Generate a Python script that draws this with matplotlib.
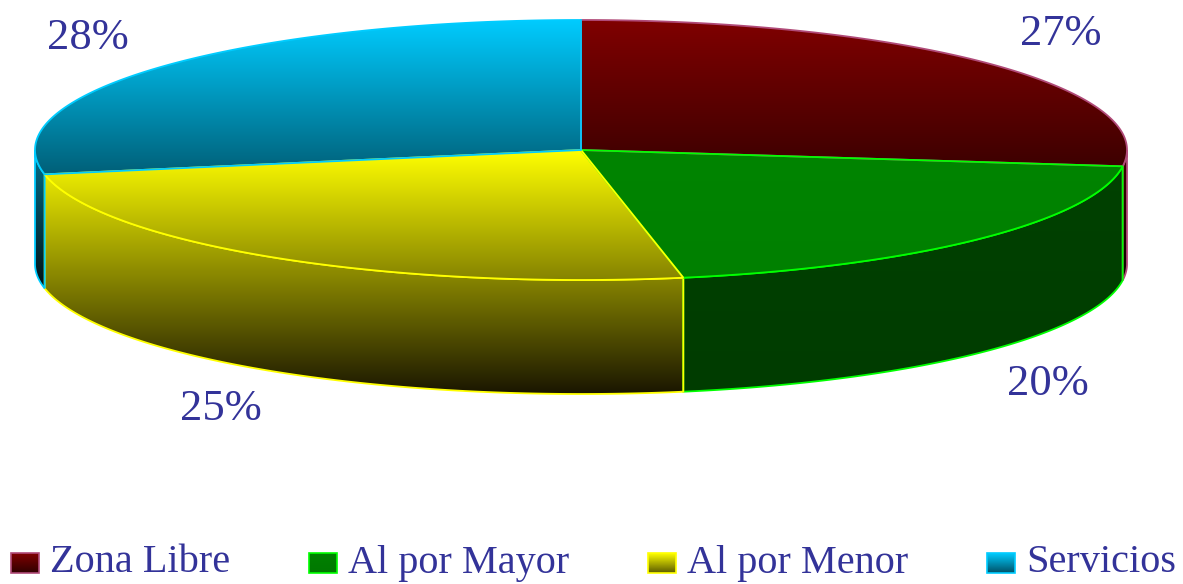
import numpy as np
import matplotlib.pyplot as plt
from matplotlib.patches import Polygon
from matplotlib.colors import LinearSegmentedColormap

categories = ['Zona Libre', 'Al por Mayor', 'Al por Menor', 'Servicios']
shares = [27, 20, 25, 28]
pct_labels = ['27%', '20%', '25%', '28%']

# styles: gradient of top face, gradient of side face, edge colour
top_grad = [('#800000', '#0a0000'), ('#008400', '#007c00'),
            ('#ffff00', '#1a1600'), ('#00ccff', '#001015')]
side_grad = [('#800000', '#0a0000'), ('#004200', '#003c00'),
             ('#ffff00', '#1a1600'), ('#00ccff', '#001015')]
legend_grad = [('#800000', '#300000'), ('#008000', '#007800'),
               ('#ffff00', '#5a5a00'), ('#00ccff', '#005066')]
edge_cols = ['#b04a78', '#00ff00', '#ffff00', '#00ccff']
text_col = '#333399'

W, H = 1183, 584
cx, cy, rx, ry, depth = 581, 150, 546, 130, 114

fig = plt.figure(figsize=(W / 100, H / 100), dpi=100)
ax = fig.add_axes([0, 0, 1, 1])
ax.set_xlim(0, W)
ax.set_ylim(H, 0)
ax.axis('off')


def pt(a, dy=0):
    r = np.radians(a)
    return cx + rx * np.cos(r), cy - ry * np.sin(r) + dy


def arc(a0, a1, dy=0, n=200):
    aa = np.linspace(a0, a1, n)
    return [pt(a, dy) for a in aa]


def grad_fill(pts, c0, c1, y0, y1, z):
    poly = Polygon(pts, closed=True, facecolor='none', edgecolor='none')
    ax.add_patch(poly)
    cmap = LinearSegmentedColormap.from_list('g', [c0, c1])
    g = np.linspace(0, 1, 256)[:, None]
    xs = np.array(pts)[:, 0]
    im = ax.imshow(g, cmap=cmap, aspect='auto', origin='upper',
                   extent=(xs.min() - 2, xs.max() + 2, y1, y0), zorder=z,
                   interpolation='bilinear')
    im.set_clip_path(poly)


bounds = 90 - np.concatenate([[0], np.cumsum(shares)]) * 3.6

# vertical extent of every slice (top face + visible side)
extents = []
for i in range(len(shares)):
    s, e = bounds[i], bounds[i + 1]
    ys = [p[1] for p in arc(s, e)] + [cy]
    fs, fe = min(s, 0), max(e, -180)
    if fs > fe:
        ys += [p[1] for p in arc(fs, fe, depth)]
    extents.append((min(ys), max(ys)))

# side faces first
for i in range(len(shares)):
    s, e = bounds[i], bounds[i + 1]
    fs, fe = min(s, 0), max(e, -180)
    if fs <= fe:
        continue
    pts = arc(fs, fe) + arc(fe, fs, depth)
    grad_fill(pts, side_grad[i][0], side_grad[i][1], *extents[i], z=1)
    ax.add_patch(Polygon(pts, closed=True, facecolor='none',
                         edgecolor=edge_cols[i], lw=1.3, zorder=2))

# top faces
for i in range(len(shares)):
    s, e = bounds[i], bounds[i + 1]
    pts = [(cx, cy)] + arc(s, e)
    grad_fill(pts, top_grad[i][0], top_grad[i][1], *extents[i], z=3)
    ax.add_patch(Polygon(pts, closed=True, facecolor='none',
                         edgecolor=edge_cols[i], lw=1.3, zorder=4))

# percentage labels
for i in range(len(shares)):
    m = np.radians((bounds[i] + bounds[i + 1]) / 2)
    lx = cx + 640 * np.cos(m)
    ly = cy - 175 * np.sin(m) + (depth if np.sin(m) < 0 else 0)
    ax.text(lx, ly, pct_labels[i], ha='center', va='center', fontsize=32,
            color=text_col, family='Liberation Serif', zorder=6)

# legend laid out across the bottom
ly = 563
sq_w, sq_h, pad = 28, 20, 11
texts = [ax.text(0, ly, c, ha='left', va='center', fontsize=29,
                 color=text_col, family='Liberation Serif') for c in categories]
fig.canvas.draw()
r = fig.canvas.get_renderer()
widths = [t.get_window_extent(r).width for t in texts]
x_left, x_right = 11, 1176
gap = (x_right - x_left - sum(w + sq_w + pad for w in widths)) / (len(widths) - 1)
x = x_left
for i, t in enumerate(texts):
    sq = [(x, ly - sq_h / 2), (x + sq_w, ly - sq_h / 2),
          (x + sq_w, ly + sq_h / 2), (x, ly + sq_h / 2)]
    grad_fill(sq, legend_grad[i][0], legend_grad[i][1],
              ly - sq_h / 2, ly + sq_h / 2, z=5)
    ax.add_patch(Polygon(sq, closed=True, facecolor='none',
                         edgecolor=edge_cols[i], lw=1.2, zorder=6))
    t.set_x(x + sq_w + pad)
    x += sq_w + pad + widths[i] + gap

ax.set_xlim(0, W)
ax.set_ylim(H, 0)
fig.savefig('out.png', dpi=100, facecolor='white')
